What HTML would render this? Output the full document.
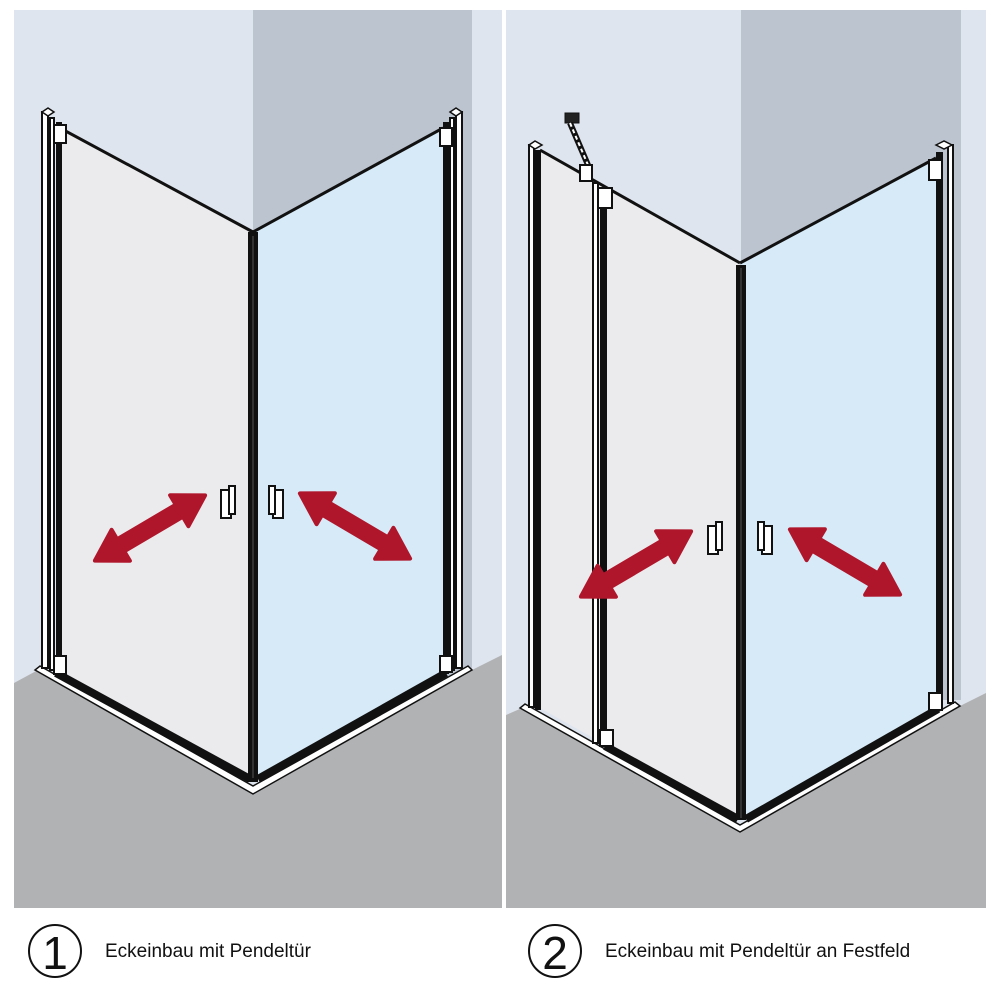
<!DOCTYPE html>
<html><head><meta charset="utf-8"><style>
html,body{margin:0;padding:0;background:#fff;width:1000px;height:1000px;overflow:hidden}
svg{display:block}
text{font-family:"Liberation Sans",sans-serif}
</style></head><body>
<svg width="1000" height="1000" viewBox="0 0 1000 1000">
<defs>
<polygon id="arr" points="-64,0 -34,-18 -34,-7 34,-7 34,-18 64,0 34,18 34,7 -34,7 -34,18" fill="#b0162b" stroke="#b0162b" stroke-width="4" stroke-linejoin="round"/>
</defs>
<!-- Panel 1 -->
<rect x="14" y="10" width="488" height="898" fill="#dfe5ee"/>
<rect x="253" y="10" width="219" height="680" fill="#bcc4cf"/>
<polygon points="14,683 38,670 253,795 472,670 502,655 502,908 14,908" fill="#b1b2b4"/>
<polygon points="60,128 253,232 253,780 60,672" fill="#ebebee"/>
<polygon points="253,232 443,128 443,672 253,780" fill="#d6eaf8"/>
<line x1="60" y1="128" x2="253" y2="232" stroke="#111" stroke-width="3"/>
<line x1="253" y1="232" x2="443" y2="128" stroke="#111" stroke-width="3"/>
<polygon points="35,670 253,794 472,670 468,666 253,786 40,666" fill="#fff" stroke="#111" stroke-width="1.5"/>
<line x1="56" y1="673" x2="250" y2="779" stroke="#111" stroke-width="8"/>
<line x1="258" y1="779" x2="446" y2="673" stroke="#111" stroke-width="8"/>
<rect x="42" y="112" width="6" height="556" fill="#fff" stroke="#111" stroke-width="2"/>
<rect x="50" y="118" width="4" height="552" fill="#fff" stroke="#111" stroke-width="2"/>
<rect x="56" y="122" width="6" height="552" fill="#111"/>
<rect x="54" y="125" width="12" height="18" fill="#fff" stroke="#111" stroke-width="2"/>
<rect x="54" y="656" width="12" height="18" fill="#fff" stroke="#111" stroke-width="2"/>
<polygon points="42,112 48,108 54,112 48,116" fill="#fff" stroke="#111" stroke-width="1.5"/>
<rect x="456" y="112" width="6" height="556" fill="#fff" stroke="#111" stroke-width="2"/>
<rect x="450" y="118" width="4" height="552" fill="#fff" stroke="#111" stroke-width="2"/>
<rect x="443" y="122" width="6" height="552" fill="#111"/>
<rect x="440" y="128" width="12" height="18" fill="#fff" stroke="#111" stroke-width="2"/>
<rect x="440" y="656" width="12" height="16" fill="#fff" stroke="#111" stroke-width="2"/>
<polygon points="450,112 456,108 462,112 456,116" fill="#fff" stroke="#111" stroke-width="1.5"/>
<rect x="248" y="232" width="10" height="550" fill="#111"/>
<line x1="253" y1="236" x2="253" y2="778" stroke="#555" stroke-width="1"/>
<rect x="221" y="490" width="10" height="28" fill="#fff" stroke="#111" stroke-width="2"/>
<rect x="229" y="486" width="6" height="28" fill="#fff" stroke="#111" stroke-width="2"/>
<rect x="273" y="490" width="10" height="28" fill="#fff" stroke="#111" stroke-width="2"/>
<rect x="269" y="486" width="6" height="28" fill="#fff" stroke="#111" stroke-width="2"/>
<use href="#arr" transform="translate(150,528) rotate(-30.6)"/>
<use href="#arr" transform="translate(355,526) rotate(30.6)"/>

<!-- Panel 2 -->
<rect x="506" y="10" width="480" height="898" fill="#dfe5ee"/>
<rect x="741" y="10" width="220" height="690" fill="#bcc4cf"/>
<polygon points="506,715 522,708 740,833 960,706 986,693 986,908 506,908" fill="#b1b2b4"/>
<polygon points="540,150 740,263 740,820 540,708" fill="#ebebee"/>
<polygon points="740,263 936,158 936,705 740,820" fill="#d6eaf8"/>
<line x1="540" y1="150" x2="740" y2="263" stroke="#111" stroke-width="3"/>
<line x1="740" y1="263" x2="936" y2="158" stroke="#111" stroke-width="3"/>
<polygon points="520,708 740,832 960,706 955,702 740,825 525,704" fill="#fff" stroke="#111" stroke-width="1.5"/>
<line x1="605" y1="746" x2="738" y2="819" stroke="#111" stroke-width="8"/>
<line x1="746" y1="819" x2="938" y2="709" stroke="#111" stroke-width="8"/>
<rect x="529" y="145" width="5" height="562" fill="#fff" stroke="#111" stroke-width="2"/>
<rect x="535" y="150" width="6" height="560" fill="#111"/>
<polygon points="529,145 535,141 542,145 535,149" fill="#fff" stroke="#111" stroke-width="1.5"/>
<rect x="565" y="113" width="14" height="10" fill="#222" stroke="#111" stroke-width="1"/>
<line x1="570" y1="123" x2="588" y2="165" stroke="#111" stroke-width="6"/>
<line x1="570" y1="123" x2="588" y2="165" stroke="#fff" stroke-width="2" stroke-dasharray="4,3"/>
<rect x="580" y="165" width="12" height="16" fill="#fff" stroke="#111" stroke-width="2"/>
<rect x="593" y="183" width="5" height="560" fill="#fff" stroke="#111" stroke-width="2"/>
<rect x="600" y="187" width="7" height="560" fill="#111"/>
<rect x="598" y="188" width="14" height="20" fill="#fff" stroke="#111" stroke-width="2"/>
<rect x="600" y="730" width="13" height="16" fill="#fff" stroke="#111" stroke-width="2"/>
<rect x="948" y="145" width="5" height="558" fill="#fff" stroke="#111" stroke-width="2"/>
<rect x="936" y="152" width="7" height="555" fill="#111"/>
<rect x="929" y="160" width="13" height="20" fill="#fff" stroke="#111" stroke-width="2"/>
<rect x="929" y="693" width="13" height="17" fill="#fff" stroke="#111" stroke-width="2"/>
<polygon points="936,145 944,141 952,145 944,149" fill="#fff" stroke="#111" stroke-width="1.5"/>
<rect x="736" y="265" width="10" height="555" fill="#111"/>
<line x1="741" y1="268" x2="741" y2="818" stroke="#555" stroke-width="1"/>
<rect x="708" y="526" width="10" height="28" fill="#fff" stroke="#111" stroke-width="2"/>
<rect x="716" y="522" width="6" height="28" fill="#fff" stroke="#111" stroke-width="2"/>
<rect x="762" y="526" width="10" height="28" fill="#fff" stroke="#111" stroke-width="2"/>
<rect x="758" y="522" width="6" height="28" fill="#fff" stroke="#111" stroke-width="2"/>
<use href="#arr" transform="translate(636,564) rotate(-30.6)"/>
<use href="#arr" transform="translate(845,562) rotate(30.6)"/>

<circle cx="55" cy="951" r="26" fill="none" stroke="#111" stroke-width="2"/>
<text x="55" y="969" font-size="46" text-anchor="middle" fill="#111">1</text>
<text x="105" y="957" font-size="19" fill="#111">Eckeinbau mit Pendeltür</text>
<circle cx="555" cy="951" r="26" fill="none" stroke="#111" stroke-width="2"/>
<text x="555" y="969" font-size="46" text-anchor="middle" fill="#111">2</text>
<text x="605" y="957" font-size="19" fill="#111">Eckeinbau mit Pendeltür an Festfeld</text>
</svg>
</body></html>
